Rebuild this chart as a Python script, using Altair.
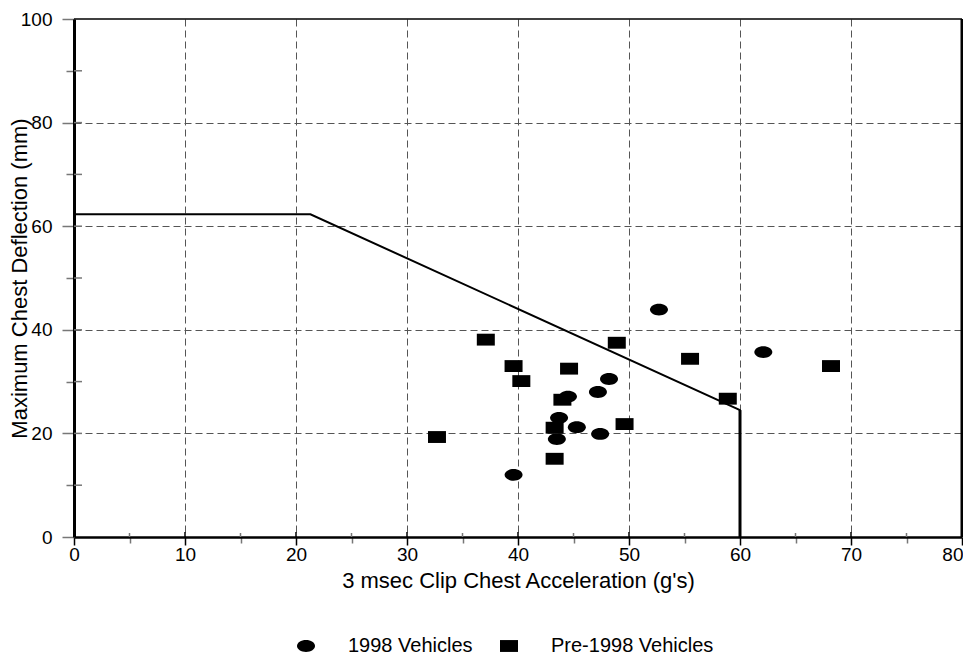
import altair as alt
import pandas as pd

# ---- data ----
v1998_x = [52.7, 62.1, 48.2, 47.2, 44.5, 43.7, 45.3, 47.4, 43.5, 39.6]
v1998_y = [43.9, 35.7, 30.5, 28.0, 27.1, 23.0, 21.2, 19.9, 18.9, 12.0]
pre_x = [37.1, 39.6, 40.3, 44.6, 48.9, 55.5, 68.2, 58.9, 44.0, 43.3, 49.6, 32.7, 43.3]
pre_y = [38.1, 33.0, 30.1, 32.5, 37.5, 34.4, 33.0, 26.7, 26.5, 21.1, 21.8, 19.3, 15.1]
series_names = ["1998 Vehicles", "Pre-1998 Vehicles"]

limit_x = [0, 21.3, 60, 60]
limit_y = [62.3, 62.3, 24.5, 0]

x_ticks = list(range(0, 81, 5))
y_ticks = list(range(0, 101, 10))

FONT = "Liberation Sans"
W, H = 888, 518

pts = pd.DataFrame({
    "acc": v1998_x + pre_x,
    "defl": v1998_y + pre_y,
    "group": [series_names[0]] * len(v1998_x) + [series_names[1]] * len(pre_x),
})
lim = pd.DataFrame({"acc": limit_x, "defl": limit_y, "o": list(range(len(limit_x)))})
vert = pd.DataFrame({"acc": [limit_x[2]], "d0": [limit_y[3]], "d1": [limit_y[2]]})
xt = pd.DataFrame({"t": x_ticks})
yt = pd.DataFrame({"t": y_ticks})

ellipse = "M-1,0A1,0.66,0,1,0,1,0A1,0.66,0,1,0,-1,0Z"
rect = "M-1,-0.66L1,-0.66L1,0.66L-1,0.66Z"

xscale = alt.Scale(domain=[0, 80], nice=False, zero=False)
yscale = alt.Scale(domain=[0, 100], nice=False, zero=False)

x_axis = alt.Axis(
    values=x_ticks,
    labelExpr="datum.value % 10 === 0 ? datum.label : ''",
    labelFlush=False,
    labelAlign={"condition": {"test": "datum.value === 80", "value": "right"}, "value": "center"},
    labelOffset={"condition": {"test": "datum.value === 80", "value": 1}, "value": 0},
    title="3 msec Clip Chest Acceleration (g's)",
    titleFont=FONT, titleFontSize=22, titleFontWeight="normal", titleColor="black",
    titleY=43, titleBaseline="middle",
    labelFont=FONT, labelFontSize=19, labelColor="black", labelPadding=0,
    domainColor="black", domainWidth=2.5,
    tickColor={"condition": {"test": "datum.value % 10 === 0", "value": "black"}, "value": "#777777"},
    tickSize={"condition": {"test": "datum.value % 10 === 0", "value": 8}, "value": 6},
    tickWidth=1.5,
    grid=True,
    gridColor="#555555", gridDash=[7, 4], gridWidth=1,
    gridOpacity={"condition": {"test": "datum.value % 10 === 0 && datum.value > 0 && datum.value < 80", "value": 1}, "value": 0},
)
y_axis = alt.Axis(
    values=y_ticks,
    labelExpr="datum.value % 20 === 0 ? datum.label : ''",
    labelFlush=False,
    title="Maximum Chest Deflection (mm)",
    titleFont=FONT, titleFontSize=22, titleFontWeight="normal", titleColor="black",
    titleX=-55, titleBaseline="middle",
    labelFont=FONT, labelFontSize=19, labelColor="black", labelPadding=10,
    domainColor="black", domainWidth=3,
    tickColor="#777777",
    tickSize={"condition": {"test": "datum.value % 20 === 0", "value": 12}, "value": 8},
    tickWidth=1.5,
    grid=True,
    gridColor="#555555", gridDash=[7, 4], gridWidth=1,
    gridOpacity={"condition": {"test": "datum.value % 20 === 0 && datum.value > 0 && datum.value < 100", "value": 1}, "value": 0},
)

points = alt.Chart(pts).mark_point(filled=True, color="black", opacity=1, size=324).encode(
    x=alt.X("acc:Q", scale=xscale, axis=x_axis),
    y=alt.Y("defl:Q", scale=yscale, axis=y_axis),
    shape=alt.Shape(
        "group:N",
        scale=alt.Scale(domain=series_names, range=[ellipse, rect]),
        legend=alt.Legend(
            orient="none", legendX=222, legendY=617, direction="horizontal",
            title=None, labelFont=FONT, labelFontSize=20, labelColor="black",
            labelLimit=0,
            symbolSize=324, symbolFillColor="black", symbolStrokeWidth=0,
            labelOffset=32, columnPadding=26, padding=0,
        ),
    ),
)

line = alt.Chart(lim).mark_line(color="black", strokeWidth=2).encode(
    x=alt.X("acc:Q", scale=xscale),
    y=alt.Y("defl:Q", scale=yscale),
    order="o:O",
)
vline = alt.Chart(vert).mark_rule(color="black", strokeWidth=3).encode(
    x=alt.X("acc:Q", scale=xscale), y=alt.Y("d0:Q", scale=yscale), y2="d1:Q")

# inner halves of the axis ticks (ticks cross the axes)
x_in_major = alt.Chart(xt).transform_filter("datum.t % 10 === 0").mark_rule(color="black", strokeWidth=1.5).encode(
    x=alt.X("t:Q", scale=xscale), y=alt.value(H - 5), y2=alt.value(H))
x_in_minor = alt.Chart(xt).transform_filter("datum.t % 10 !== 0").mark_rule(color="#777777", strokeWidth=1.5).encode(
    x=alt.X("t:Q", scale=xscale), y=alt.value(H - 4), y2=alt.value(H))
y_in = alt.Chart(yt).transform_filter("datum.t > 0 && datum.t < 100").mark_rule(color="#777777", strokeWidth=1.5).encode(
    y=alt.Y("t:Q", scale=yscale), x=alt.value(0), x2=alt.value(8))

frame = pd.DataFrame({"x0": [0], "x1": [80], "y0": [0], "y1": [100]})
top_border = alt.Chart(frame).mark_rule(color="black", strokeWidth=1.5).encode(
    x=alt.X("x0:Q", scale=xscale), x2="x1:Q", y=alt.Y("y1:Q", scale=yscale))
right_border = alt.Chart(frame).mark_rule(color="black", strokeWidth=3).encode(
    x=alt.X("x1:Q", scale=xscale), y=alt.Y("y0:Q", scale=yscale), y2="y1:Q")

chart = alt.layer(
    x_in_major, x_in_minor, y_in, top_border, right_border, line, vline, points
).properties(
    width=W, height=H,
    autosize=alt.AutoSizeParams(type="none"),
    padding={"left": 66, "top": 11, "right": 1, "bottom": 120},
    background="white",
).configure_view(stroke=None)

chart.save("out.html", embed_options={"renderer": "svg", "actions": False})
